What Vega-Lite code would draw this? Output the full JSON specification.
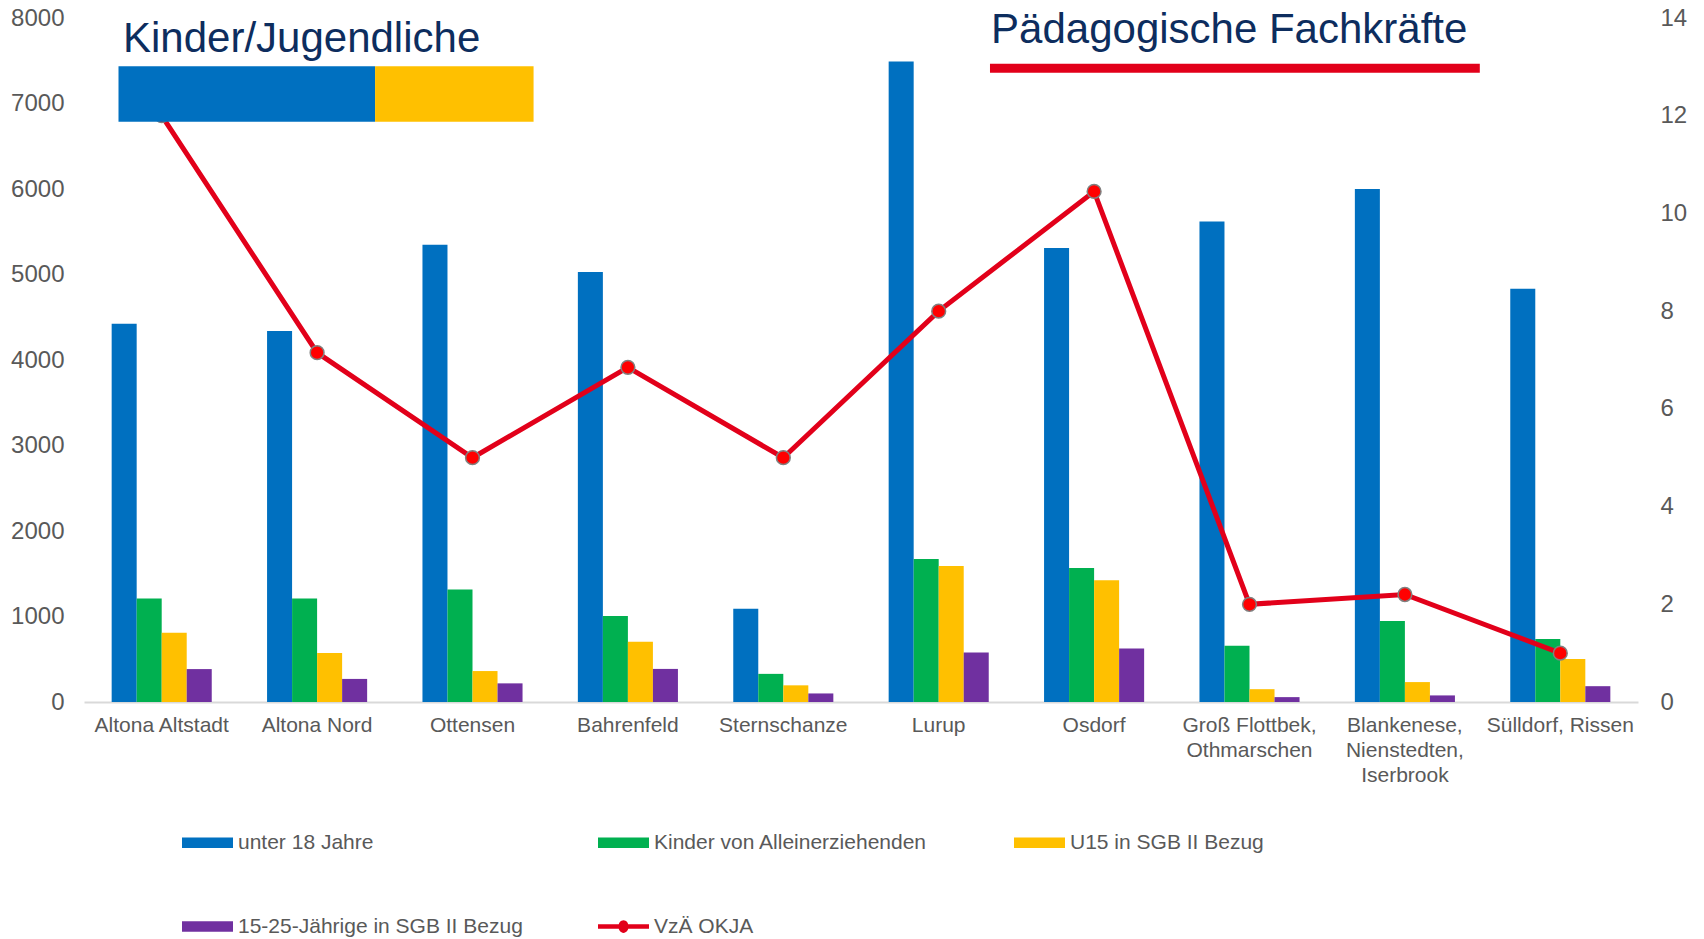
{
  "$schema": "https://vega.github.io/schema/vega-lite/v6.json",
  "width": 1554,
  "height": 684,
  "autosize": {"type": "none"},
  "padding": {"left": 84, "top": 18, "right": 66, "bottom": 237},
  "background": "white",
  "config": {"view": {"stroke": null}, "font": "Liberation Sans"},
  "datasets": {
    "bars": [
      {"bezirk": "Altona Altstadt", "serie": "unter 18 Jahre", "wert": 4425},
      {"bezirk": "Altona Altstadt", "serie": "Kinder von Alleinerziehenden", "wert": 1210},
      {"bezirk": "Altona Altstadt", "serie": "U15 in SGB II Bezug", "wert": 810},
      {"bezirk": "Altona Altstadt", "serie": "15-25-Jährige in SGB II Bezug", "wert": 385},
      {"bezirk": "Altona Nord", "serie": "unter 18 Jahre", "wert": 4340},
      {"bezirk": "Altona Nord", "serie": "Kinder von Alleinerziehenden", "wert": 1210},
      {"bezirk": "Altona Nord", "serie": "U15 in SGB II Bezug", "wert": 572},
      {"bezirk": "Altona Nord", "serie": "15-25-Jährige in SGB II Bezug", "wert": 270},
      {"bezirk": "Ottensen", "serie": "unter 18 Jahre", "wert": 5347},
      {"bezirk": "Ottensen", "serie": "Kinder von Alleinerziehenden", "wert": 1315},
      {"bezirk": "Ottensen", "serie": "U15 in SGB II Bezug", "wert": 362},
      {"bezirk": "Ottensen", "serie": "15-25-Jährige in SGB II Bezug", "wert": 218},
      {"bezirk": "Bahrenfeld", "serie": "unter 18 Jahre", "wert": 5030},
      {"bezirk": "Bahrenfeld", "serie": "Kinder von Alleinerziehenden", "wert": 1005},
      {"bezirk": "Bahrenfeld", "serie": "U15 in SGB II Bezug", "wert": 705},
      {"bezirk": "Bahrenfeld", "serie": "15-25-Jährige in SGB II Bezug", "wert": 387},
      {"bezirk": "Sternschanze", "serie": "unter 18 Jahre", "wert": 1090},
      {"bezirk": "Sternschanze", "serie": "Kinder von Alleinerziehenden", "wert": 329},
      {"bezirk": "Sternschanze", "serie": "U15 in SGB II Bezug", "wert": 195},
      {"bezirk": "Sternschanze", "serie": "15-25-Jährige in SGB II Bezug", "wert": 100},
      {"bezirk": "Lurup", "serie": "unter 18 Jahre", "wert": 7490},
      {"bezirk": "Lurup", "serie": "Kinder von Alleinerziehenden", "wert": 1672},
      {"bezirk": "Lurup", "serie": "U15 in SGB II Bezug", "wert": 1592},
      {"bezirk": "Lurup", "serie": "15-25-Jährige in SGB II Bezug", "wert": 580},
      {"bezirk": "Osdorf", "serie": "unter 18 Jahre", "wert": 5310},
      {"bezirk": "Osdorf", "serie": "Kinder von Alleinerziehenden", "wert": 1568},
      {"bezirk": "Osdorf", "serie": "U15 in SGB II Bezug", "wert": 1424},
      {"bezirk": "Osdorf", "serie": "15-25-Jährige in SGB II Bezug", "wert": 626},
      {"bezirk": "Groß Flottbek, Othmarschen", "serie": "unter 18 Jahre", "wert": 5620},
      {"bezirk": "Groß Flottbek, Othmarschen", "serie": "Kinder von Alleinerziehenden", "wert": 659},
      {"bezirk": "Groß Flottbek, Othmarschen", "serie": "U15 in SGB II Bezug", "wert": 150},
      {"bezirk": "Groß Flottbek, Othmarschen", "serie": "15-25-Jährige in SGB II Bezug", "wert": 57},
      {"bezirk": "Blankenese, Nienstedten, Iserbrook", "serie": "unter 18 Jahre", "wert": 6000},
      {"bezirk": "Blankenese, Nienstedten, Iserbrook", "serie": "Kinder von Alleinerziehenden", "wert": 947},
      {"bezirk": "Blankenese, Nienstedten, Iserbrook", "serie": "U15 in SGB II Bezug", "wert": 233},
      {"bezirk": "Blankenese, Nienstedten, Iserbrook", "serie": "15-25-Jährige in SGB II Bezug", "wert": 77},
      {"bezirk": "Sülldorf, Rissen", "serie": "unter 18 Jahre", "wert": 4832},
      {"bezirk": "Sülldorf, Rissen", "serie": "Kinder von Alleinerziehenden", "wert": 736},
      {"bezirk": "Sülldorf, Rissen", "serie": "U15 in SGB II Bezug", "wert": 502},
      {"bezirk": "Sülldorf, Rissen", "serie": "15-25-Jährige in SGB II Bezug", "wert": 185}
    ],
    "linie": [
      {"bezirk": "Altona Altstadt", "serie": "VzÄ OKJA", "vza": 12},
      {"bezirk": "Altona Nord", "serie": "VzÄ OKJA", "vza": 7.15},
      {"bezirk": "Ottensen", "serie": "VzÄ OKJA", "vza": 5},
      {"bezirk": "Bahrenfeld", "serie": "VzÄ OKJA", "vza": 6.85},
      {"bezirk": "Sternschanze", "serie": "VzÄ OKJA", "vza": 5},
      {"bezirk": "Lurup", "serie": "VzÄ OKJA", "vza": 8},
      {"bezirk": "Osdorf", "serie": "VzÄ OKJA", "vza": 10.45},
      {"bezirk": "Groß Flottbek, Othmarschen", "serie": "VzÄ OKJA", "vza": 2},
      {"bezirk": "Blankenese, Nienstedten, Iserbrook", "serie": "VzÄ OKJA", "vza": 2.2},
      {"bezirk": "Sülldorf, Rissen", "serie": "VzÄ OKJA", "vza": 1}
    ],
    "blau": [{"x": 0.222, "x2": 1.873, "y": 6787, "y2": 7435}],
    "gelb": [{"x": 1.873, "x2": 2.893, "y": 6787, "y2": 7435}],
    "strich": [{"x": 5.83, "x2": 8.982, "y": 7360, "y2": 7465}],
    "titel": [
      {"text": "Kinder/Jugendliche", "x": 0.251, "y": 7606},
      {"text": "Pädagogische Fachkräfte", "x": 5.837, "y": 7711}
    ]
  },
  "layer": [
    {
      "data": {"name": "bars"},
      "mark": {"type": "bar"},
      "encoding": {
        "x": {
          "field": "bezirk", "type": "nominal", "sort": null,
          "scale": {"paddingInner": 0.356, "paddingOuter": 0.178},
          "axis": {
            "title": null, "labelAngle": 0, "ticks": false,
            "domainColor": "#D9D9D9", "domainWidth": 2,
            "labelFont": "Liberation Sans", "labelFontSize": 21, "labelColor": "#595959",
            "labelPadding": 12, "labelLineHeight": 25,
            "labelExpr": "datum.value == 'Groß Flottbek, Othmarschen' ? ['Groß Flottbek,', 'Othmarschen'] : datum.value == 'Blankenese, Nienstedten, Iserbrook' ? ['Blankenese,', 'Nienstedten,', 'Iserbrook'] : datum.label"
          }
        },
        "xOffset": {
          "field": "serie", "type": "nominal",
          "sort": ["unter 18 Jahre", "Kinder von Alleinerziehenden", "U15 in SGB II Bezug", "15-25-Jährige in SGB II Bezug"],
          "scale": {"paddingInner": 0, "paddingOuter": 0}
        },
        "y": {
          "field": "wert", "type": "quantitative",
          "scale": {"domain": [0, 8000], "nice": false},
          "axis": {
            "title": null, "orient": "left", "domain": false, "ticks": false, "grid": false,
            "values": [0, 1000, 2000, 3000, 4000, 5000, 6000, 7000, 8000], "format": "d",
            "labelFont": "Liberation Sans", "labelFontSize": 24, "labelColor": "#595959", "labelPadding": 20
          }
        },
        "color": {
          "field": "serie", "type": "nominal",
          "scale": {
            "domain": ["unter 18 Jahre", "Kinder von Alleinerziehenden", "U15 in SGB II Bezug", "15-25-Jährige in SGB II Bezug", "VzÄ OKJA"],
            "range": ["#0070C0", "#00B050", "#FFC000", "#7030A0", "#E2001A"]
          },
          "legend": {
            "orient": "none", "legendX": 98, "legendY": 799,
            "direction": "horizontal", "columns": 3, "gridAlign": "all",
            "columnPadding": 75, "rowPadding": 48, "padding": 0,
            "title": null,
            "symbolType": "M-1,-0.21H1V0.21H-1Z", "symbolSize": 2601, "symbolStrokeWidth": 0, "symbolOpacity": 1,
            "labelFont": "Liberation Sans", "labelFontSize": 21, "labelColor": "#595959",
            "labelOffset": 5, "labelLimit": 500,
            "encode": {
              "symbols": {
                "update": {
                  "shape": {"signal": "datum.value === 'VzÄ OKJA' ? 'M-1,-0.09H1V0.09H-1Z M-0.2,0A0.2,0.25 0 1,1 0.2,0A0.2,0.25 0 1,1 -0.2,0Z' : 'M-1,-0.21H1V0.21H-1Z'"}
                }
              }
            }
          }
        }
      }
    },
    {
      "data": {"name": "linie"},
      "mark": {"type": "line", "strokeWidth": 5},
      "encoding": {
        "x": {"field": "bezirk", "type": "nominal", "sort": null, "scale": {"paddingInner": 0.356, "paddingOuter": 0.178}, "axis": null},
        "y": {
          "field": "vza", "type": "quantitative",
          "scale": {"domain": [0, 14], "nice": false},
          "axis": {
            "title": null, "orient": "right", "domain": false, "ticks": false, "grid": false,
            "values": [0, 2, 4, 6, 8, 10, 12, 14],
            "labelFont": "Liberation Sans", "labelFontSize": 24, "labelColor": "#595959", "labelPadding": 22
          }
        },
        "color": {"field": "serie", "type": "nominal"}
      }
    },
    {
      "data": {"name": "linie"},
      "mark": {"type": "point", "filled": true, "fill": "#FF0000", "stroke": "#808080", "strokeWidth": 1.5, "size": 190, "opacity": 1},
      "encoding": {
        "x": {"field": "bezirk", "type": "nominal", "sort": null, "scale": {"paddingInner": 0.356, "paddingOuter": 0.178}, "axis": null},
        "y": {"field": "vza", "type": "quantitative", "scale": {"domain": [0, 14], "nice": false}, "axis": null}
      }
    },
    {
      "data": {"name": "blau"},
      "mark": {"type": "rect", "color": "#0070C0"},
      "encoding": {
        "x": {"field": "x", "type": "quantitative", "scale": {"domain": [0, 10], "nice": false, "zero": false}, "axis": null},
        "x2": {"field": "x2"},
        "y": {"field": "y", "type": "quantitative", "scale": {"domain": [0, 8000], "nice": false}, "axis": null},
        "y2": {"field": "y2"}
      }
    },
    {
      "data": {"name": "gelb"},
      "mark": {"type": "rect", "color": "#FFC000"},
      "encoding": {
        "x": {"field": "x", "type": "quantitative", "scale": {"domain": [0, 10], "nice": false, "zero": false}, "axis": null},
        "x2": {"field": "x2"},
        "y": {"field": "y", "type": "quantitative", "scale": {"domain": [0, 8000], "nice": false}, "axis": null},
        "y2": {"field": "y2"}
      }
    },
    {
      "data": {"name": "strich"},
      "mark": {"type": "rect", "color": "#E2001A"},
      "encoding": {
        "x": {"field": "x", "type": "quantitative", "scale": {"domain": [0, 10], "nice": false, "zero": false}, "axis": null},
        "x2": {"field": "x2"},
        "y": {"field": "y", "type": "quantitative", "scale": {"domain": [0, 8000], "nice": false}, "axis": null},
        "y2": {"field": "y2"}
      }
    },
    {
      "data": {"name": "titel"},
      "mark": {"type": "text", "align": "left", "baseline": "alphabetic", "fontSize": 42, "font": "Liberation Sans", "color": "#0D2D5E"},
      "encoding": {
        "x": {"field": "x", "type": "quantitative", "scale": {"domain": [0, 10], "nice": false, "zero": false}, "axis": null},
        "y": {"field": "y", "type": "quantitative", "scale": {"domain": [0, 8000], "nice": false}, "axis": null},
        "text": {"field": "text"}
      }
    }
  ],
  "resolve": {"scale": {"x": "independent", "y": "independent"}}
}
